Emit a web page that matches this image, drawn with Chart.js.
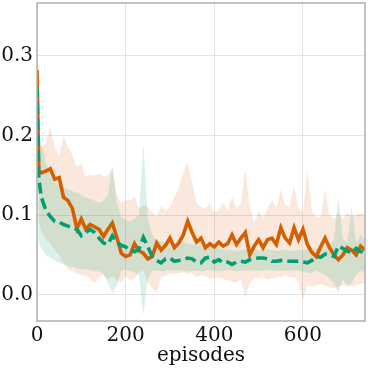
<!DOCTYPE html>
<html>
<head>
<meta charset="utf-8">
<script src="https://cdn.jsdelivr.net/npm/chart.js@4/dist/chart.umd.min.js"></script>
<style>
html,body{margin:0;padding:0;background:#fff;}
#wrap{width:368px;height:368px;position:relative;}
</style>
</head>
<body>
<div id="wrap"><canvas id="c" width="368" height="368"></canvas></div>
<script>
const episodes = [0,4,10,20,30,40,50,60,70,80,90,100,110,120,130,140,150,160,170,180,190,200,210,220,230,240,250,260,270,280,290,300,310,320,330,340,350,360,370,380,390,400,410,420,430,440,450,460,470,480,490,500,510,520,530,540,550,560,570,580,590,600,610,620,630,640,650,660,670,680,690,700,710,720,730,740];

const orangeMean = [0.282,0.155,0.153,0.155,0.158,0.145,0.147,0.122,0.118,0.108,0.083,0.095,0.082,0.088,0.085,0.082,0.073,0.082,0.090,0.072,0.052,0.048,0.050,0.064,0.055,0.052,0.045,0.048,0.065,0.056,0.062,0.071,0.059,0.065,0.075,0.092,0.078,0.066,0.071,0.059,0.064,0.060,0.066,0.061,0.064,0.075,0.063,0.071,0.078,0.050,0.061,0.069,0.059,0.069,0.071,0.063,0.084,0.071,0.065,0.084,0.069,0.082,0.063,0.053,0.048,0.060,0.071,0.059,0.050,0.044,0.050,0.059,0.056,0.050,0.061,0.056];
const orangeUpper = [0.290,0.190,0.185,0.190,0.211,0.185,0.175,0.199,0.185,0.175,0.160,0.165,0.148,0.150,0.150,0.152,0.148,0.150,0.159,0.125,0.115,0.120,0.118,0.123,0.108,0.112,0.110,0.103,0.098,0.111,0.105,0.110,0.123,0.135,0.153,0.166,0.140,0.115,0.110,0.108,0.115,0.103,0.107,0.115,0.105,0.123,0.108,0.115,0.159,0.110,0.090,0.105,0.097,0.108,0.119,0.108,0.132,0.112,0.110,0.136,0.108,0.102,0.157,0.105,0.098,0.097,0.132,0.100,0.095,0.103,0.095,0.103,0.098,0.100,0.103,0.100];
const orangeLower = [0.260,0.090,0.080,0.070,0.065,0.055,0.050,0.040,0.032,0.030,0.027,0.025,0.024,0.020,0.015,0.022,0.025,0.020,0.023,0.018,0.015,0.023,0.018,0.020,0.028,0.031,0.015,0.008,0.002,0.022,0.024,0.027,0.026,0.027,0.028,0.026,0.027,0.022,0.025,0.023,0.020,0.021,0.022,0.020,0.018,0.016,0.015,0.020,-0.004,0.015,0.020,0.021,0.022,0.019,0.020,0.022,0.022,0.025,0.022,0.022,0.015,-0.006,0.012,0.010,0.012,0.013,0.012,0.009,0.008,0.010,0.012,0.013,0.010,0.012,0.013,0.015];

const tealMean = [0.261,0.145,0.122,0.106,0.098,0.092,0.091,0.088,0.086,0.084,0.082,0.074,0.078,0.082,0.078,0.071,0.065,0.063,0.074,0.066,0.062,0.060,0.056,0.054,0.057,0.072,0.060,0.048,0.043,0.040,0.045,0.046,0.042,0.043,0.044,0.046,0.045,0.041,0.040,0.046,0.047,0.041,0.044,0.040,0.041,0.038,0.041,0.042,0.041,0.044,0.045,0.046,0.046,0.045,0.042,0.042,0.043,0.042,0.042,0.042,0.042,0.041,0.040,0.043,0.048,0.047,0.051,0.050,0.048,0.061,0.058,0.055,0.052,0.058,0.054,0.053];
const tealUpper = [0.270,0.205,0.190,0.165,0.150,0.140,0.138,0.135,0.132,0.130,0.128,0.125,0.122,0.120,0.118,0.115,0.118,0.125,0.160,0.115,0.097,0.094,0.092,0.095,0.100,0.190,0.095,0.075,0.068,0.067,0.065,0.066,0.064,0.065,0.066,0.064,0.063,0.062,0.061,0.063,0.060,0.058,0.059,0.057,0.056,0.056,0.055,0.056,0.057,0.057,0.058,0.056,0.056,0.057,0.056,0.055,0.055,0.056,0.055,0.055,0.056,0.055,0.057,0.058,0.058,0.060,0.062,0.064,0.068,0.123,0.070,0.065,0.111,0.065,0.075,0.068];
const tealLower = [0.250,0.065,0.058,0.050,0.046,0.043,0.040,0.038,0.036,0.035,0.033,0.032,0.032,0.031,0.030,0.029,0.026,0.015,0.002,0.012,0.030,0.032,0.030,0.028,0.025,-0.026,0.020,0.030,0.030,0.029,0.030,0.031,0.030,0.031,0.030,0.029,0.030,0.030,0.029,0.030,0.031,0.030,0.029,0.030,0.031,0.030,0.029,0.030,0.030,0.031,0.030,0.030,0.030,0.031,0.031,0.030,0.030,0.030,0.030,0.031,0.030,0.029,0.028,0.027,0.030,0.028,0.025,0.020,0.015,0.002,0.020,0.010,0.015,0.025,0.030,0.028];

const xTicks = [0,200,400,600];
const yTicks = [0.0,0.1,0.2,0.3];
const xLabel = 'episodes';

const ORANGE = '#d55e00';
const TEAL = '#029e73';
const FONT = 'DejaVu Serif';

const pts = arr => arr.map((v,i) => ({x: episodes[i], y: v}));

const boxPlugin = {
  id: 'box',
  afterDraw(chart){
    const a = chart.chartArea, ctx = chart.ctx;
    ctx.save();
    ctx.strokeStyle = '#b0b0b0';
    ctx.lineWidth = 1.5;
    ctx.strokeRect(a.left, a.top, a.right - a.left, a.bottom - a.top);
    ctx.restore();
  }
};

const band = (data, color, fill, order) => ({
  data: pts(data), borderWidth: 0, pointRadius: 0, backgroundColor: color,
  fill: fill, tension: 0, order: order
});

new Chart(document.getElementById('c'), {
  type: 'line',
  data: {
    datasets: [
      {data: pts(tealMean), borderColor: TEAL, borderWidth: 3.6, borderDash: [11,5], pointRadius: 0, fill: false, tension: 0, order: 1},
      {data: pts(orangeMean), borderColor: ORANGE, borderWidth: 3.6, pointRadius: 0, fill: false, tension: 0, order: 2},
      band(tealUpper, 'rgba(2,158,115,0.15)', '+1', 3),
      band(tealLower, 'rgba(0,0,0,0)', false, 4),
      band(orangeUpper, 'rgba(213,94,0,0.14)', '+1', 5),
      band(orangeLower, 'rgba(0,0,0,0)', false, 6)
    ]
  },
  options: {
    responsive: false,
    animation: false,
    events: [],
    layout: {padding: {top: 3, right: 3, left: 0, bottom: 0}},
    plugins: {legend: {display: false}, tooltip: {enabled: false}},
    scales: {
      x: {
        type: 'linear', min: 0, max: 740,
        afterBuildTicks: s => { s.ticks = xTicks.map(v => ({value: v})); },
        afterFit: s => { s.height = 47; s.paddingLeft = 0; s.paddingRight = 0; },
        ticks: {font: {family: FONT, size: 20}, color: '#111', padding: 3, maxRotation: 0},
        grid: {color: '#e4e4e4', lineWidth: 1, drawTicks: false},
        border: {display: false},
        title: {display: true, text: xLabel, font: {family: FONT, size: 20}, color: '#111', padding: {top: 0, bottom: 0}}
      },
      y: {
        type: 'linear', min: -0.033, max: 0.366,
        afterBuildTicks: s => { s.ticks = yTicks.map(v => ({value: v})); },
        afterFit: s => { s.width = 37; s.paddingTop = 0; s.paddingBottom = 0; },
        ticks: {font: {family: FONT, size: 20}, color: '#111', padding: 4, callback: v => v.toFixed(1)},
        grid: {color: '#e4e4e4', lineWidth: 1, drawTicks: false},
        border: {display: false}
      }
    }
  },
  plugins: [boxPlugin]
});
</script>
</body>
</html>
